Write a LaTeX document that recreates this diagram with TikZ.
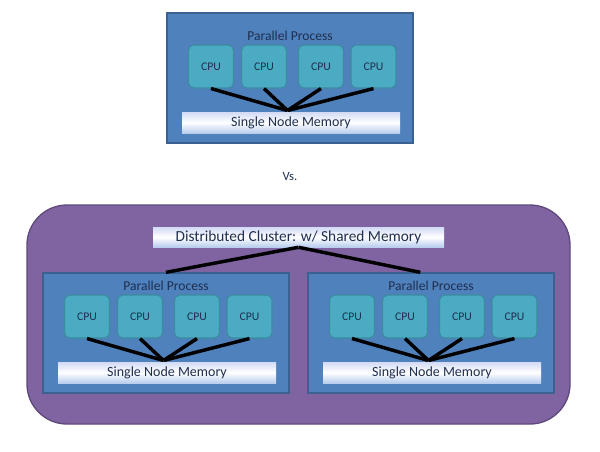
\documentclass[tikz,border=0pt]{standalone}
\usepackage{fontspec}
\setmainfont{Carlito}
\usetikzlibrary{positioning}

\definecolor{procblue}{HTML}{4F81BD}
\definecolor{procedge}{HTML}{3A6190}
\definecolor{cpufill}{HTML}{4AABC2}
\definecolor{cpuedge}{HTML}{3B8C9E}
\definecolor{clusterfill}{HTML}{8064A2}
\definecolor{clusteredge}{HTML}{5E4A7A}
\definecolor{memtop}{HTML}{D2DAF5}
\definecolor{membot}{HTML}{B9CDEE}
\definecolor{cputext}{HTML}{1F2F4F}

\tikzset{
  procbox/.style={draw=procedge, line width=1pt, fill=procblue, minimum width=184.5pt, inner sep=0pt},
  cpubox/.style={draw=cpuedge, line width=0.8pt, fill=cpufill, rounded corners=4pt, minimum width=33.75pt, minimum height=32.25pt, inner sep=0pt, font=\fontsize{8.8}{10}\selectfont, text=cputext},
  membar/.style={top color=memtop, bottom color=membot, middle color=white, minimum width=163.5pt, minimum height=15.75pt, inner sep=0pt, font=\fontsize{10.5}{12}\selectfont, text=cputext},
  wire/.style={line width=2.6pt, black}
}

% Un groupe : nom, bord gauche, bas, hauteur (en pixels)
\newcommand{\procgroup}[4]{
  \begin{scope}[shift={(#2,#3)}]
    \node[procbox, minimum height=#4*0.75pt] (#1-box) at (123,-#4/2) {};
    \node[font=\fontsize{10.2}{12}\selectfont, text=cputext] (#1-title) at (123,-107.5) {Parallel Process};
    \coordinate (#1-meet) at (120.5,-32.5);
    \node[cpubox] (#1-c1) at (44,-76.5) {CPU};
    \node[cpubox] (#1-c2) at (97,-76.5) {CPU};
    \node[cpubox] (#1-c3) at (154,-76.5) {CPU};
    \node[cpubox] (#1-c4) at (206.5,-76.5) {CPU};
    \foreach \c in {1,...,4}
      \draw[wire] (#1-c\c.south) -- (#1-meet);
    \node[membar] (#1-mem) at (124,-20.5) {Single Node Memory};
  \end{scope}
}

\begin{document}
\begin{tikzpicture}[x=0.75pt, y=-0.75pt]
  \useasboundingbox (0,0) rectangle (600,451);
  % Processus parallele seul
  \procgroup{top}{167}{143}{130}
  \node[font=\fontsize{9.5}{11}\selectfont, text=cputext] (vs) at (290,176) {Vs.};
  % Cluster distribue
  \node[draw=clusteredge, line width=1pt, fill=clusterfill, rounded corners=30pt,
        minimum width=407.25pt, minimum height=164.25pt] (cluster) at (298.5,314.5) {};
  \node[membar, minimum width=218.25pt, minimum height=15pt,
        font=\fontsize{11.5}{13}\selectfont] (shared) at (298.5,237) {Distributed Cluster: w/ Shared Memory};
  \procgroup{left}{43}{393}{120}
  \procgroup{right}{308}{393}{120}
  \draw[wire] (shared.south) -- (left-box.north);
  \draw[wire] (shared.south) -- ([xshift=-8pt]right-box.north);
\end{tikzpicture}
\end{document}
